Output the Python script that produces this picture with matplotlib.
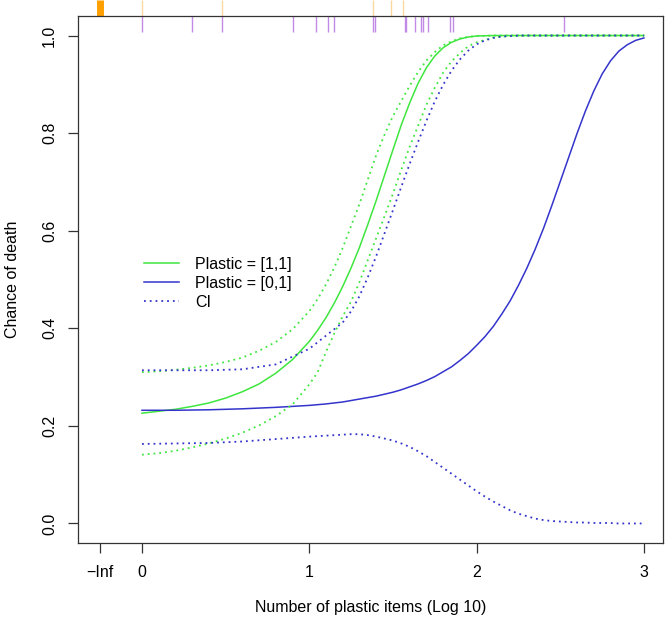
import matplotlib
matplotlib.use("Agg")
import matplotlib.pyplot as plt
import matplotlib.transforms as mtransforms

plt.rcParams['font.family'] = ['Liberation Sans', 'DejaVu Sans']

# x positions (log10 of plastic items)
x_green = [0, 0.1, 0.2, 0.3, 0.4, 0.5, 0.6, 0.7, 0.8, 0.9, 1.0, 1.05, 1.1, 1.15, 1.2, 1.25,
           1.3, 1.35, 1.4, 1.45, 1.5, 1.55, 1.6, 1.65, 1.7, 1.75, 1.8, 1.85, 1.9, 1.95,
           2.0, 2.1, 2.2, 2.3, 2.5, 3.0]
green_fit = [0.226, 0.230, 0.234, 0.240, 0.247, 0.257, 0.270, 0.286, 0.308, 0.336, 0.373,
             0.396, 0.422, 0.452, 0.486, 0.524, 0.566, 0.613, 0.662, 0.714, 0.766, 0.817,
             0.862, 0.902, 0.934, 0.958, 0.975, 0.986, 0.993, 0.997, 0.999, 1.0, 1.0, 1.0,
             1.0, 1.0]
green_hi = [0.310, 0.312, 0.315, 0.319, 0.324, 0.331, 0.340, 0.354, 0.372, 0.398, 0.435,
            0.460, 0.490, 0.525, 0.565, 0.610, 0.655, 0.705, 0.755, 0.797, 0.835, 0.866,
            0.897, 0.925, 0.949, 0.966, 0.980, 0.988, 0.994, 0.997, 0.999, 1.0, 1.0, 1.0,
            1.0, 1.0]
green_lo = [0.141, 0.144, 0.149, 0.156, 0.164, 0.174, 0.186, 0.201, 0.220, 0.244, 0.285,
            0.310, 0.352, 0.390, 0.425, 0.455, 0.495, 0.540, 0.585, 0.630, 0.676, 0.725,
            0.772, 0.815, 0.858, 0.893, 0.924, 0.947, 0.964, 0.978, 0.986, 0.996, 0.999,
            1.0, 1.0, 1.0]

x_blue = [0, 0.2, 0.4, 0.6, 0.8, 1.0, 1.1, 1.2, 1.25, 1.3, 1.35, 1.4, 1.45, 1.5, 1.55, 1.6,
          1.65, 1.7, 1.75, 1.8, 1.85, 1.9, 1.95, 2.0, 2.05, 2.1, 2.15, 2.2, 2.25, 2.3, 2.35,
          2.4, 2.45, 2.5, 2.55, 2.6, 2.65, 2.7, 2.75, 2.8, 2.85, 2.9, 2.95, 3.0]
blue_fit = [0.232, 0.232, 0.233, 0.235, 0.238, 0.242, 0.245, 0.249, 0.252, 0.255, 0.258,
            0.261, 0.265, 0.269, 0.274, 0.280, 0.286, 0.293, 0.301, 0.311, 0.321, 0.334,
            0.348, 0.365, 0.383, 0.404, 0.429, 0.456, 0.488, 0.523, 0.562, 0.605, 0.652,
            0.701, 0.750, 0.799, 0.845, 0.886, 0.921, 0.948, 0.968, 0.981, 0.990, 0.995]
blue_hi = [0.314, 0.314, 0.314, 0.316, 0.326, 0.358, 0.385, 0.412, 0.435, 0.466, 0.505,
           0.548, 0.595, 0.642, 0.690, 0.737, 0.782, 0.825, 0.865, 0.899, 0.928, 0.951,
           0.969, 0.982, 0.990, 0.995, 0.998, 0.999, 1.0, 1.0, 1.0, 1.0, 1.0, 1.0, 1.0, 1.0,
           1.0, 1.0, 1.0, 1.0, 1.0, 1.0, 1.0, 1.0]
blue_lo = [0.163, 0.164, 0.165, 0.168, 0.173, 0.178, 0.180, 0.182, 0.183, 0.183, 0.181,
           0.178, 0.174, 0.170, 0.164, 0.157, 0.148, 0.138, 0.126, 0.114, 0.102, 0.090,
           0.078, 0.066, 0.055, 0.045, 0.036, 0.027, 0.020, 0.015, 0.010, 0.007, 0.005,
           0.004, 0.003, 0.002, 0.002, 0.001, 0.001, 0.001, 0.0, 0.0, 0.0, 0.0]

# rug marks (log10 counts); -0.25 stands for -Inf (zero items)
rug_orange_inf = [-0.25]
rug_orange = [0.0, 0.48, 1.38, 1.49, 1.56]
rug_purple = [0.0, 0.30, 0.48, 0.90, 1.04, 1.11, 1.15, 1.38, 1.39, 1.57, 1.58, 1.63,
              1.67, 1.68, 1.71, 1.84, 1.86, 2.52]

xticks = [-0.25, 0, 1, 2, 3]
xticklabels = ['\u2212Inf', '0', '1', '2', '3']
yticks = [0.0, 0.2, 0.4, 0.6, 0.8, 1.0]
yticklabels = ['0.0', '0.2', '0.4', '0.6', '0.8', '1.0']

GREEN = '#3ee63e'
BLUE = '#3434cc'
FS = 11.5

fig = plt.figure(figsize=(6.67, 6.24), dpi=100)
ax = fig.add_axes([78 / 667, 81 / 624, 585 / 667, 527 / 624])

dots = (0, (1, 2.2))
ax.plot(x_green, green_fit, color=GREEN, lw=1.1, label='Plastic = [1,1]')
ax.plot(x_blue, blue_fit, color=BLUE, lw=1.1, label='Plastic = [0,1]')
ax.plot(x_green, green_hi, color=GREEN, lw=1.3, ls=dots)
ax.plot(x_green, green_lo, color=GREEN, lw=1.3, ls=dots)
ax.plot(x_blue, blue_hi, color=BLUE, lw=1.3, ls=dots)
ax.plot(x_blue, blue_lo, color=BLUE, lw=1.3, ls=dots, label='CI')

# rugs: orange outside the top edge, purple inside it
trans = mtransforms.blended_transform_factory(ax.transData, ax.transAxes)
ax.vlines(rug_orange_inf, 1.0, 1.03, transform=trans, color='#ffa000', lw=5, clip_on=False)
ax.vlines(rug_orange, 1.0, 1.03, transform=trans, color='#f9d8a0', lw=1, clip_on=False)
ax.vlines(rug_purple, 0.97, 1.0, transform=trans, color='#c08ae6', lw=1, clip_on=False)

ax.set_xlim(-0.3825, 3.114)
ax.set_ylim(-0.04, 1.04)
ax.set_xticks(xticks)
ax.set_xticklabels(xticklabels)
ax.set_yticks(yticks)
ax.set_yticklabels(yticklabels, rotation=90, va='center')
ax.tick_params(direction='out', length=7, width=0.9, color='#333333', labelsize=FS, pad=9)
ax.tick_params(axis='y', pad=8)
for s in ax.spines.values():
    s.set_color('#333333')
    s.set_linewidth(0.9)

ax.set_xlabel('Number of plastic items (Log 10)', fontsize=FS, labelpad=14)
ax.set_ylabel('Chance of death', fontsize=FS, labelpad=16)

ax.legend(loc='center left', bbox_to_anchor=(0.113, 0.493), frameon=False, fontsize=FS,
          handlelength=2.2, handletextpad=1.0, labelspacing=0.25, borderpad=0,
          borderaxespad=0)

plt.savefig('out.png', dpi=100)
